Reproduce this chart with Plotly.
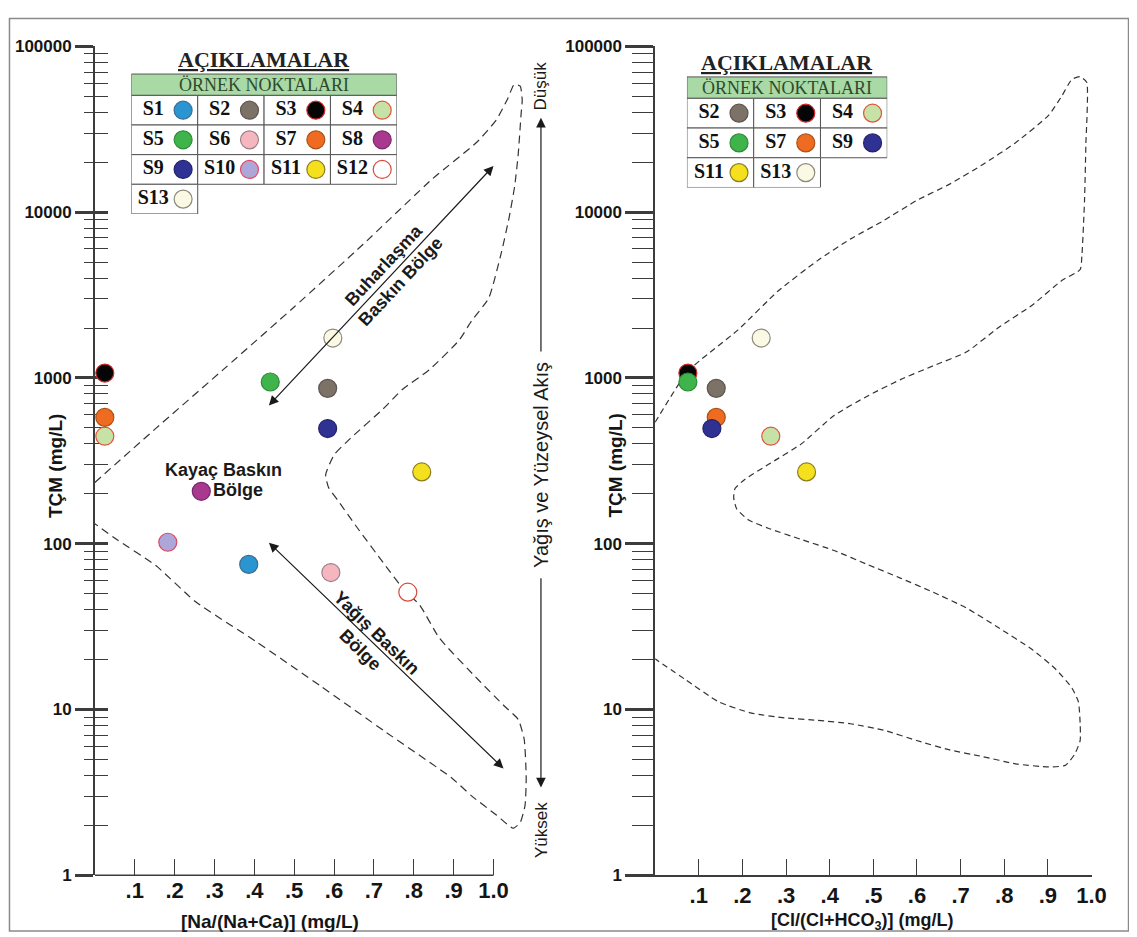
import plotly.graph_objects as go

W, H = 1137, 937
SANS = "Liberation Sans, Arial, Helvetica, sans-serif"
SERIF = "Liberation Serif, Times New Roman, serif"
AXC = "#3c3c3c"

# ---------------- data ----------------
SAMPLES = ["S1", "S2", "S3", "S4", "S5", "S6", "S7", "S8", "S9", "S10", "S11", "S12", "S13"]
FILL = ["#2b95d1", "#7d7268", "#050505", "#c7e2a6", "#3fb44b", "#f6b6c0", "#ee6b21",
        "#a9388f", "#2f3193", "#aca6d9", "#f4e01c", "#ffffff", "#fbf8e3"]
EDGE = ["#3a6f93", "#5e5650", "#d42a2a", "#e2553d", "#2f8a3a", "#9c8088", "#a85418",
        "#7a2a6a", "#22246c", "#e04860", "#8d7d22", "#d94a3c", "#8c8a7c"]
TDS = [75, 865, 1070, 445, 945, 67, 578, 207, 495, 102, 271, 51, 1740]
NA_RATIO = [0.386, 0.584, 0.025, 0.025, 0.44, 0.592, 0.025, 0.267, 0.584, 0.183, 0.82, 0.785, 0.597]

CL_SAMPLES = ["S2", "S3", "S4", "S5", "S7", "S9", "S11", "S13"]
CL_RATIO = [0.14, 0.075, 0.265, 0.075, 0.14, 0.13, 0.347, 0.243]

# Gibbs boundary (dashed envelope), Na/(Na+Ca) diagram
NA_ENV_X = [0, 0.153, 0.327, 0.500, 0.673, 0.847, 0.958, 1.007, 1.035, 1.052, 1.067, 1.072,
            1.069, 1.062, 1.053, 1.039, 1.020, 0.988, 0.945, 0.914, 0.839, 0.772, 0.723,
            0.641, 0.600, 0.579, 0.586, 0.612, 0.656, 0.723, 0.780, 0.814, 0.864, 0.963,
            1.027, 1.062, 1.077, 1.082, 1.079, 1.067, 1.049, 1.008, 0.945, 0.896, 0.730,
            0.567, 0.402, 0.253, 0.153, 0.055, 0]
NA_ENV_TDS = [234, 496, 1150, 2680, 6400, 15900, 26400, 36000, 48000, 59000, 57500, 47300,
              38600, 22400, 14300, 9250, 5740, 3030, 2210, 1690, 1120, 854, 650,
              432, 343, 261, 219, 179, 127, 77, 51, 43, 27, 15,
              10.5, 8.7, 6.6, 3.85, 2.63, 2.08, 1.92, 2.30, 3.01, 3.85, 7.3,
              13.8, 25.9, 44.6, 73.8, 106, 132]

# Gibbs boundary, Cl/(Cl+HCO3) diagram
CL_ENV_X = [0, 0.075, 0.19, 0.281, 0.372, 0.448, 0.524, 0.599, 0.675, 0.75, 0.826, 0.902,
            0.932, 0.955, 0.974, 0.989, 0.987, 0.984, 0.978, 0.974, 0.932, 0.864, 0.788,
            0.713, 0.637, 0.562, 0.486, 0.41, 0.335, 0.259, 0.206, 0.183, 0.18, 0.187,
            0.214, 0.259, 0.335, 0.41, 0.486, 0.562, 0.637, 0.713, 0.788, 0.864, 0.917,
            0.955, 0.97, 0.974, 0.974, 0.962, 0.94, 0.902, 0.826, 0.75, 0.675, 0.599,
            0.524, 0.448, 0.372, 0.297, 0.221, 0.146, 0.07, 0]
CL_ENV_TDS = [540, 1096, 1950, 3330, 5100, 6900, 8900, 11750, 14760, 19320, 26240, 38460,
              50230, 63240, 65610, 60810, 25230, 11750, 5470, 4508, 3873, 2748, 2023,
              1432, 1183, 977, 776, 594, 400, 300, 245, 215, 189, 162,
              139, 124, 106, 91, 75, 62, 51, 41, 31, 23, 17.6,
              13.5, 11.1, 8.2, 6.5, 5.4, 4.6, 4.5, 4.7, 5.2, 5.7, 6.5,
              7.5, 8.2, 8.6, 8.9, 9.5, 11.1, 15.1, 20.2]

Y_TICKS = [1, 10, 100, 1000, 10000, 100000]
Y_TICK_LABELS = ["1", "10", "100", "1000", "10000", "100000"]
Y_MINOR = [m * t for t in Y_TICKS[:-1] for m in range(2, 10)]
X_TICKS = [0.1, 0.2, 0.3, 0.4, 0.5, 0.6, 0.7, 0.8, 0.9, 1.0]
X_TICK_LABELS = [".1", ".2", ".3", ".4", ".5", ".6", ".7", ".8", ".9", "1.0"]
NA_X_MAX = 1.14   # the Na diagram's frame extends past 1.0 (envelope + guide arrow)

LEFT_TABLE_COLS = 4
RIGHT_TABLE_COLS = 3


# ---------------- helpers (page pixels -> paper fractions) ----------------
def fx(p):
    return p / W


def fy(p):
    return 1 - p / H


color_of = dict(zip(SAMPLES, FILL))
edge_of = dict(zip(SAMPLES, EDGE))
tds_of = dict(zip(SAMPLES, TDS))

fig = go.Figure()
env_line = dict(color="#333333", width=1.2)

# left diagram
fig.add_trace(go.Scatter(x=NA_ENV_X, y=NA_ENV_TDS, mode="lines", line_shape="spline",
                         line=dict(env_line, dash="8px,5px", smoothing=0.5),
                         xaxis="x", yaxis="y", hoverinfo="skip"))
fig.add_trace(go.Scatter(x=NA_RATIO, y=TDS, mode="markers", text=SAMPLES, cliponaxis=False,
                         marker=dict(size=18, color=FILL, line=dict(color=EDGE, width=1.2)),
                         xaxis="x", yaxis="y"))
fig.add_trace(go.Scatter(x=[None], y=[None], xaxis="x", yaxis="y5", hoverinfo="skip"))

# right diagram
fig.add_trace(go.Scatter(x=CL_ENV_X, y=CL_ENV_TDS, mode="lines", line_shape="spline",
                         line=dict(env_line, dash="6px,4px", smoothing=0.5),
                         xaxis="x2", yaxis="y2", hoverinfo="skip"))
fig.add_trace(go.Scatter(x=CL_RATIO, y=[tds_of[s] for s in CL_SAMPLES], mode="markers",
                         text=CL_SAMPLES, cliponaxis=False,
                         marker=dict(size=18, color=[color_of[s] for s in CL_SAMPLES],
                                     line=dict(color=[edge_of[s] for s in CL_SAMPLES], width=1.2)),
                         xaxis="x2", yaxis="y2"))

# ---------------- legend tables ----------------
shapes = []
annotations = []


def add_table(names, ncols, xa, ya):
    cols = [i % ncols for i in range(len(names))]
    rows = [i // ncols for i in range(len(names))]
    shapes.append(dict(type="rect", xref=xa, yref=ya, x0=0, x1=ncols, y0=-0.72, y1=0,
                       fillcolor="#a9d9a4", line=dict(color="#555555", width=1), layer="below"))
    for c, r in zip(cols, rows):
        shapes.append(dict(type="rect", xref=xa, yref=ya, x0=c, x1=c + 1, y0=r, y1=r + 1,
                           fillcolor="white", line=dict(color="#555555", width=1), layer="below"))
    fig.add_trace(go.Scatter(x=[c + 0.33 for c in cols], y=[r + 0.5 for r in rows], mode="text",
                             text=[f"<b>{n}</b>" for n in names],
                             textfont=dict(family=SERIF, size=20, color="#111111"),
                             xaxis=xa, yaxis=ya, hoverinfo="skip"))
    fig.add_trace(go.Scatter(x=[c + 0.78 for c in cols], y=[r + 0.5 for r in rows], mode="markers",
                             marker=dict(size=18, color=[color_of[n] for n in names],
                                         line=dict(color=[edge_of[n] for n in names], width=1.2)),
                             xaxis=xa, yaxis=ya, hoverinfo="skip", cliponaxis=False))
    annotations.append(dict(xref=xa, yref=ya, x=ncols / 2, y=-0.36, text="ÖRNEK NOKTALARI",
                            xanchor="center", yanchor="middle", showarrow=False,
                            font=dict(family=SERIF, size=18, color="#2f4a2f")))
    annotations.append(dict(xref=xa, yref=ya, x=ncols / 2, y=-1.22, text="<u><b>AÇIKLAMALAR</b></u>",
                            xanchor="center", yanchor="middle", showarrow=False,
                            font=dict(family=SERIF, size=22, color="#222222")))


add_table(SAMPLES, LEFT_TABLE_COLS, "x3", "y3")
add_table(CL_SAMPLES, RIGHT_TABLE_COLS, "x4", "y4")


# ---------------- axes ----------------
def ycommon(**kw):
    d = dict(type="log", range=[0, 5], domain=[fy(876), fy(30)], showgrid=False, zeroline=False,
             tickmode="array", tickvals=Y_TICKS, ticktext=[f"<b>{t}</b>" for t in Y_TICK_LABELS],
             tickfont=dict(family=SANS, size=17, color="#151515"),
             showline=True, linecolor=AXC, linewidth=1.5, tickcolor=AXC, tickwidth=2.5,
             ticks="outside", layer="below traces")
    d.update(kw)
    return d


def xcommon(**kw):
    d = dict(showgrid=False, zeroline=False, tickmode="array",
             tickvals=X_TICKS, ticktext=[f"<b>{t}</b>" for t in X_TICK_LABELS],
             tickfont=dict(family=SANS, size=22, color="#151515"),
             showline=True, linecolor=AXC, linewidth=1.5, ticks="inside", ticklen=16,
             tickwidth=1.3, tickcolor=AXC, layer="below traces")
    d.update(kw)
    return d


hidden = dict(visible=False, showgrid=False, zeroline=False, fixedrange=True)

fig.update_layout(
    width=W, height=H, margin=dict(l=0, r=0, t=0, b=0),
    paper_bgcolor="white", plot_bgcolor="rgba(0,0,0,0)", showlegend=False,
    xaxis=xcommon(domain=[fx(88), fx(88 + 404 * NA_X_MAX)], range=[0, NA_X_MAX], anchor="y",
                  showline=False),
    yaxis=ycommon(anchor="x", ticklen=18,
                  minor=dict(tickmode="array", tickvals=Y_MINOR, ticks="outside", ticklen=9,
                             tickwidth=1.3, tickcolor=AXC, showgrid=False)),
    yaxis5=ycommon(anchor="x", overlaying="y", side="left", showticklabels=False, showline=False,
                   ticks="inside", ticklen=13,
                   minor=dict(tickmode="array", tickvals=Y_MINOR, ticks="inside", ticklen=13,
                              tickwidth=1.3, tickcolor=AXC, showgrid=False)),
    xaxis2=xcommon(domain=[fx(655.8), fx(1098)], range=[0, 1.0], anchor="y2"),
    yaxis2=ycommon(anchor="x2", ticklen=28,
                   minor=dict(tickmode="array", tickvals=Y_MINOR, ticks="outside", ticklen=21,
                              tickwidth=1.3, tickcolor=AXC, showgrid=False)),
    xaxis3=dict(hidden, domain=[fx(125), fx(394)], range=[0, LEFT_TABLE_COLS], anchor="y3"),
    yaxis3=dict(hidden, domain=[fy(201), fy(80 - 1.7 * 30.25)], range=[4, -1.7], anchor="x3"),
    xaxis4=dict(hidden, domain=[fx(688), fx(891)], range=[0, RIGHT_TABLE_COLS], anchor="y4"),
    yaxis4=dict(hidden, domain=[fy(174), fy(83 - 1.7 * 30.33)], range=[3, -1.7], anchor="x4"),
)

# x-axis line of the Na diagram stops at 1.0
shapes.append(dict(type="line", xref="x", yref="y domain", x0=0, x1=X_TICKS[-1], y0=0, y1=0,
                   line=dict(color=AXC, width=1.5), layer="below"))

# ---------------- text & arrows ----------------
bold18 = dict(family=SANS, size=18, color="#1a1a1a")
C = dict(xanchor="center", yanchor="middle", showarrow=False)

arrow_kw = dict(text="", showarrow=True, arrowhead=2, arrowsize=1.6, arrowwidth=1.2,
                arrowcolor="#1a1a1a", standoff=0, xref="x", yref="y", axref="x", ayref="y")

annotations += [
    dict(C, xref="paper", yref="paper", x=fx(48), y=fy(458), text="<b>TÇM (mg/L)</b>",
         textangle=-90, font=dict(family=SANS, size=19, color="#151515")),
    dict(C, xref="paper", yref="paper", x=fx(616), y=fy(458), text="<b>TÇM (mg/L)</b>",
         textangle=-90, font=dict(family=SANS, size=19, color="#151515")),
    dict(C, xref="paper", yref="paper", x=fx(88 + 404 * 0.44), y=fy(923),
         text="<b>[Na/(Na+Ca)] (mg/L)</b>", font=dict(family=SANS, size=19, color="#151515")),
    dict(C, xref="x2 domain", yref="paper", x=0.475, y=fy(923),
         text="<b>[Cl/(Cl+HCO<sub>3</sub>)] (mg/L)</b>",
         font=dict(family=SANS, size=18, color="#151515")),
    # evaporation-dominance arrow
    dict(arrow_kw, x=1.0, y=4.279, ax=0.433, ay=2.825, arrowside="end+start",
         startarrowhead=2, startarrowsize=1.6, startstandoff=0),
    dict(C, xref="x", yref="y", x=0.745, y=3.629, text="<b>Buharlaşma<br>Baskın Bölge</b>",
         textangle=-47, font=bold18),
    # precipitation-dominance arrow
    dict(arrow_kw, x=1.025, y=0.644, ax=0.433, ay=2.015, arrowside="end+start",
         startarrowhead=2, startarrowsize=1.6, startstandoff=0),
    dict(C, xref="x", yref="y", x=0.687, y=1.41, text="<b>Yağış Baskın<br>Bölge</b>",
         textangle=44, font=bold18),
    # rock dominance
    dict(C, xref="x", yref="y", x=0.322, y=2.443, text="<b>Kayaç Baskın</b>", font=bold18),
    dict(C, xref="x", yref="y", x=0.359, y=2.323, text="<b>Bölge</b>", font=bold18),
    # vertical guide arrow
    dict(arrow_kw, x=1.119, y=4.569, ax=1.119, ay=3.15),
    dict(arrow_kw, x=1.119, y=0.53, ax=1.119, ay=1.80),
    dict(C, xref="x", yref="y", x=1.119, y=2.475, text="Yağış ve Yüzeysel Akış", textangle=-90,
         font=dict(family=SANS, size=20, color="#1a1a1a")),
    dict(C, xref="x", yref="y", x=1.119, y=4.764, text="Düşük", textangle=-90,
         font=dict(family=SANS, size=17, color="#1a1a1a")),
    dict(C, xref="x", yref="y", x=1.119, y=0.272, text="Yüksek", textangle=-90,
         font=dict(family=SANS, size=17, color="#1a1a1a")),
]

# outer frame
shapes.append(dict(type="rect", xref="paper", yref="paper", x0=fx(1.5), x1=fx(W - 1.5),
                   y0=fy(H - 4), y1=fy(1.5), line=dict(color="#8a8a8a", width=1.5)))

fig.update_layout(shapes=shapes, annotations=annotations)
fig.write_html("out.html")
